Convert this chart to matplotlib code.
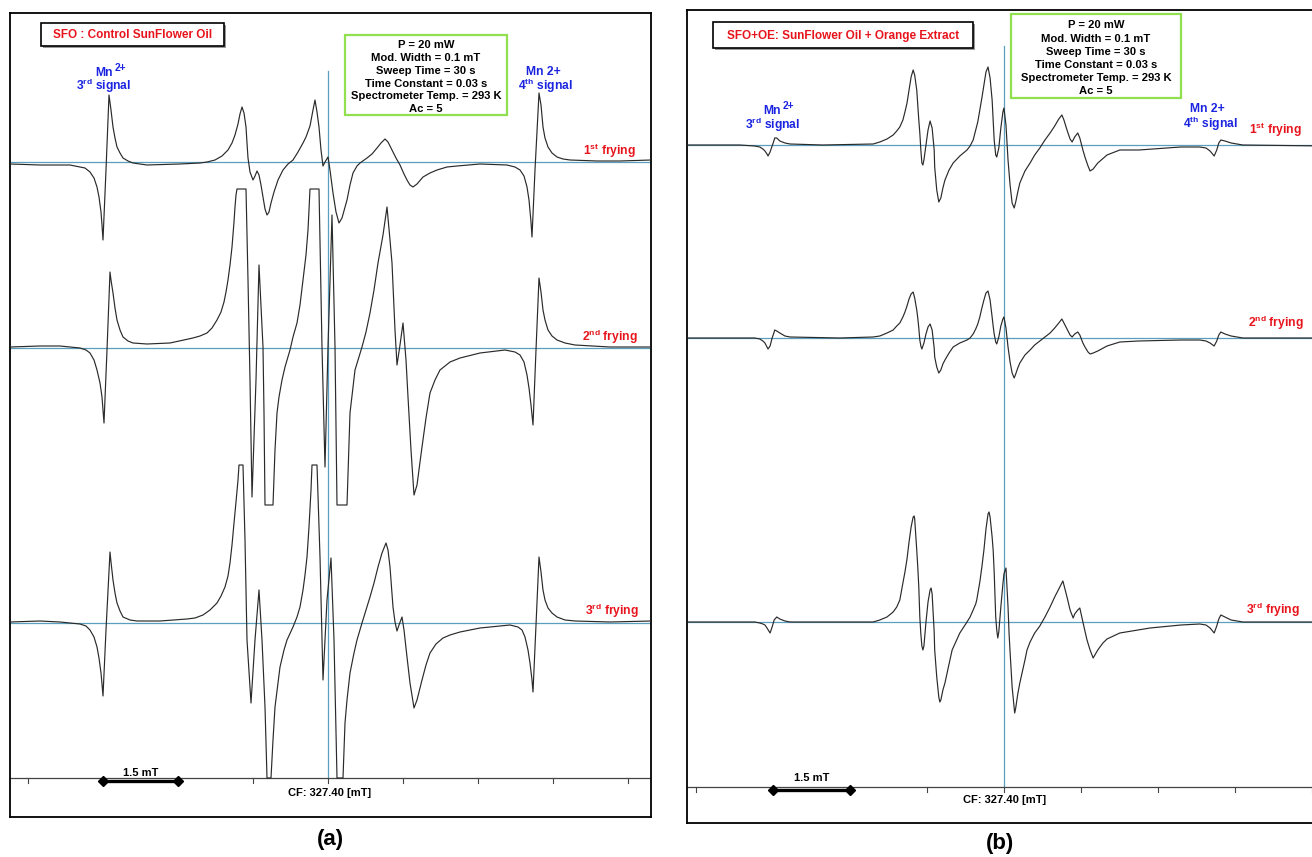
import matplotlib
matplotlib.use("Agg")
import matplotlib.pyplot as plt
from matplotlib.patches import Rectangle
import numpy as np

plt.rcParams['font.family'] = ['Liberation Sans', 'DejaVu Sans']
plt.rcParams['mathtext.fontset'] = 'custom'
plt.rcParams['mathtext.rm'] = 'Liberation Sans:bold'
plt.rcParams['mathtext.it'] = 'Liberation Sans:bold'
plt.rcParams['mathtext.bf'] = 'Liberation Sans:bold'

# ---------------- data ----------------
CF = 327.40          # centre field, mT
TICK_STEP = 1.5      # mT
SCALE_BAR = 1.5      # mT

params_text = ["P = 20 mW", "Mod. Width = 0.1 mT", "Sweep Time = 30 s",
               "Time Constant = 0.03 s", "Spectrometer Temp. = 293 K", "Ac = 5"]
frying_labels = ["1$^{st}$ frying", "2$^{nd}$ frying", "3$^{rd}$ frying"]

# (field mT, intensity a.u.)
# Panel (a): SFO control, 1st / 2nd / 3rd frying
a1 = [(321.04, -2), (321.64, -3), (322.24, -3), (322.44, -5), (322.54, -6), (322.64, -10),
      (322.72, -16), (322.78, -25), (322.82, -35), (322.86, -50), (322.88, -63), (322.90, -78),
      (322.96, -8), (323.02, 67), (323.06, 52), (323.10, 35), (323.14, 24), (323.18, 15),
      (323.24, 9), (323.30, 4), (323.40, 1), (323.50, -1), (323.78, -3), (324.44, -2),
      (324.84, -1), (324.98, 0), (325.14, 2), (325.28, 6), (325.40, 12), (325.48, 19),
      (325.54, 27), (325.60, 38), (325.64, 48), (325.68, 55), (325.72, 49), (325.76, 35),
      (325.78, 19), (325.80, 4), (325.84, -10), (325.90, -18), (325.94, -14), (325.98, -9),
      (326.02, -13), (326.06, -23), (326.10, -35), (326.14, -47), (326.18, -53), (326.22, -50),
      (326.26, -41), (326.32, -30), (326.40, -18), (326.50, -8), (326.60, -2), (326.70, 2),
      (326.80, 10), (326.90, 19), (326.96, 25), (327.04, 36), (327.10, 52), (327.14, 62),
      (327.18, 50), (327.22, 35), (327.26, 12), (327.30, -4), (327.34, 0), (327.40, 5),
      (327.44, -8), (327.50, -31), (327.56, -50), (327.62, -61), (327.68, -56), (327.78, -38),
      (327.84, -23), (327.90, -11), (327.98, -4), (328.04, -1), (328.18, 4), (328.28, 8),
      (328.38, 14), (328.46, 19), (328.54, 23), (328.60, 20), (328.68, 12), (328.76, 4),
      (328.84, -3), (328.92, -12), (328.98, -18), (329.04, -23), (329.10, -25), (329.18, -22),
      (329.30, -15), (329.44, -11), (329.58, -8), (329.78, -5), (329.98, -4), (330.44, -2),
      (330.98, -3), (331.14, -5), (331.24, -8), (331.32, -14), (331.38, -25), (331.42, -38),
      (331.46, -60), (331.48, -75), (331.54, -8), (331.62, 69), (331.66, 57), (331.70, 35),
      (331.74, 24), (331.80, 15), (331.88, 9), (331.98, 5), (332.10, 3), (332.24, 2),
      (332.78, 1), (333.24, 1), (333.86, 2)]

a2 = [(321.04, 1), (321.64, 2), (322.04, 2), (322.44, 0), (322.56, -2), (322.64, -5),
      (322.72, -12), (322.78, -22), (322.84, -35), (322.88, -49), (322.90, -62), (322.92, -75),
      (322.98, -2), (323.04, 76), (323.06, 68), (323.10, 55), (323.14, 40), (323.18, 28),
      (323.24, 18), (323.30, 11), (323.40, 7), (323.50, 5), (323.78, 4), (324.24, 5),
      (324.70, 10), (324.84, 12), (324.98, 15), (325.08, 20), (325.18, 28), (325.26, 36),
      (325.32, 46), (325.36, 56), (325.40, 68), (325.44, 83), (325.48, 101), (325.52, 126),
      (325.54, 141), (325.56, 153), (325.58, 159), (325.76, 159), (325.80, 68), (325.84, -32),
      (325.88, -149), (325.96, -32), (326.02, 83), (326.10, 1), (326.12, -65), (326.14, -157),
      (326.30, -157), (326.34, -102), (326.38, -65), (326.42, -49), (326.48, -32), (326.54, -19),
      (326.64, -2), (326.70, 11), (326.78, 25), (326.84, 43), (326.90, 68), (326.96, 93),
      (327.00, 118), (327.02, 138), (327.04, 159), (327.22, 159), (327.28, 1), (327.34, -119),
      (327.40, 1), (327.48, 133), (327.54, 1), (327.58, -157), (327.78, -157), (327.84, -65),
      (327.94, -22), (328.08, 1), (328.16, 16), (328.24, 35), (328.32, 58), (328.40, 85),
      (328.50, 113), (328.58, 141), (328.64, 108), (328.68, 85), (328.74, 18), (328.78, -17),
      (328.84, 3), (328.90, 25), (328.96, -12), (329.00, -49), (329.06, -102), (329.12, -147),
      (329.18, -137), (329.28, -99), (329.36, -70), (329.44, -45), (329.54, -32), (329.64, -22),
      (329.84, -14), (330.04, -10), (330.44, -5), (330.94, -2), (331.14, -4), (331.24, -7),
      (331.32, -14), (331.38, -27), (331.42, -40), (331.46, -57), (331.50, -77), (331.56, -2),
      (331.62, 70), (331.66, 56), (331.70, 38), (331.74, 28), (331.80, 18), (331.88, 12),
      (331.98, 8), (332.14, 5), (332.34, 3), (333.04, 1), (333.86, 1)]

a3 = [(321.04, 1), (321.64, 2), (322.04, 1), (322.44, -1), (322.56, -3), (322.64, -7),
      (322.72, -14), (322.78, -24), (322.82, -35), (322.86, -50), (322.88, -61), (322.90, -73),
      (322.96, -7), (323.04, 71), (323.06, 61), (323.10, 43), (323.14, 30), (323.18, 20),
      (323.24, 12), (323.30, 6), (323.44, 3), (323.58, 2), (324.04, 2), (324.58, 4),
      (324.74, 5), (324.90, 8), (325.04, 13), (325.18, 20), (325.26, 27), (325.34, 36),
      (325.40, 47), (325.44, 60), (325.48, 78), (325.52, 100), (325.56, 121), (325.60, 143),
      (325.62, 158), (325.70, 158), (325.74, 83), (325.78, -17), (325.86, -80), (325.94, -17),
      (326.02, 33), (326.08, -17), (326.14, -84), (326.18, -155), (326.26, -155), (326.30, -117),
      (326.34, -84), (326.40, -60), (326.44, -44), (326.52, -27), (326.58, -17), (326.70, -4),
      (326.78, 6), (326.84, 16), (326.90, 33), (326.94, 48), (326.98, 66), (327.02, 96),
      (327.06, 133), (327.08, 158), (327.18, 158), (327.24, 66), (327.30, -57), (327.38, 23),
      (327.46, 65), (327.52, -17), (327.58, -155), (327.70, -155), (327.74, -100), (327.78, -77),
      (327.84, -50), (327.92, -30), (327.98, -17), (328.08, 0), (328.16, 13), (328.24, 26),
      (328.32, 40), (328.40, 56), (328.48, 70), (328.56, 80), (328.60, 73), (328.64, 56),
      (328.70, 16), (328.74, 1), (328.78, -8), (328.82, -2), (328.88, 6), (328.92, -7),
      (328.98, -34), (329.04, -60), (329.12, -85), (329.18, -77), (329.28, -57), (329.36, -42),
      (329.44, -30), (329.56, -21), (329.70, -15), (329.84, -12), (330.04, -9), (330.44, -5),
      (331.04, -2), (331.20, -4), (331.28, -7), (331.34, -14), (331.40, -27), (331.44, -40),
      (331.48, -57), (331.50, -69), (331.56, -2), (331.62, 66), (331.66, 51), (331.70, 33),
      (331.74, 23), (331.80, 15), (331.88, 10), (331.98, 6), (332.14, 3), (332.34, 2),
      (333.04, 1), (333.86, 2)]

# Panel (b): SFO + orange extract, 1st / 2nd / 3rd frying
b1 = [(321.22, 0), (322.25, 0), (322.54, -1), (322.64, -2), (322.70, -4), (322.74, -6),
      (322.78, -9), (322.80, -11), (322.84, -7), (322.88, -1), (322.92, 5), (322.93, 7),
      (322.97, 7), (323.03, 4), (323.13, 2), (323.23, 1), (323.87, 0), (324.85, 1),
      (324.98, 3), (325.12, 6), (325.24, 10), (325.31, 14), (325.37, 18), (325.43, 25),
      (325.47, 33), (325.51, 42), (325.55, 55), (325.59, 68), (325.63, 75), (325.66, 70),
      (325.70, 55), (325.72, 40), (325.74, 25), (325.76, 12), (325.78, -5), (325.80, -18),
      (325.82, -20), (325.84, -15), (325.88, 0), (325.92, 15), (325.96, 24), (326.00, 17),
      (326.04, -5), (326.05, -22), (326.09, -45), (326.13, -57), (326.17, -53), (326.21, -43),
      (326.25, -35), (326.33, -25), (326.41, -18), (326.54, -11), (326.68, -5), (326.74, -1),
      (326.80, 5), (326.85, 15), (326.89, 23), (326.93, 35), (326.97, 47), (327.01, 60),
      (327.05, 73), (327.09, 78), (327.13, 67), (327.17, 45), (327.19, 25), (327.21, 5),
      (327.24, -10), (327.26, -12), (327.30, -3), (327.34, 17), (327.38, 33), (327.40, 37),
      (327.44, 20), (327.48, -15), (327.52, -40), (327.56, -58), (327.60, -63), (327.63, -57),
      (327.67, -47), (327.71, -38), (327.81, -26), (327.91, -18), (328.00, -10), (328.10, -3),
      (328.20, 5), (328.30, 12), (328.39, 19), (328.47, 26), (328.53, 30), (328.57, 25),
      (328.63, 15), (328.69, 6), (328.73, 3), (328.78, 8), (328.84, 12), (328.88, 7),
      (328.94, -5), (328.98, -12), (329.04, -21), (329.08, -26), (329.14, -24), (329.23, -18),
      (329.41, -10), (329.66, -5), (330.03, -5), (330.85, -2), (331.22, -2), (331.34, -3),
      (331.42, -6), (331.50, -11), (331.55, -5), (331.59, 2), (331.63, 5), (331.71, 4),
      (331.83, 2), (332.06, 0), (333.70, -1)]

b2 = [(321.22, 0), (322.25, 0), (322.54, 0), (322.64, -1), (322.70, -3), (322.74, -5),
      (322.78, -9), (322.80, -11), (322.84, -8), (322.88, 0), (322.92, 6), (322.93, 8),
      (322.97, 7), (323.03, 5), (323.13, 2), (323.23, 1), (324.20, 0), (324.85, 1),
      (324.98, 2), (325.12, 5), (325.24, 8), (325.31, 12), (325.37, 15), (325.43, 21),
      (325.47, 26), (325.51, 32), (325.55, 39), (325.59, 44), (325.63, 46), (325.66, 40),
      (325.70, 28), (325.72, 20), (325.74, 10), (325.76, -2), (325.78, -8), (325.80, -11),
      (325.84, -5), (325.88, 4), (325.92, 11), (325.96, 14), (326.00, 8), (326.04, -10),
      (326.05, -19), (326.09, -29), (326.13, -35), (326.17, -32), (326.21, -26), (326.25, -22),
      (326.33, -15), (326.41, -9), (326.54, -5), (326.68, -2), (326.74, 0), (326.80, 4),
      (326.85, 9), (326.89, 14), (326.93, 21), (326.97, 30), (327.01, 38), (327.05, 45),
      (327.09, 47), (327.13, 38), (327.17, 21), (327.19, 12), (327.21, 4), (327.24, -4),
      (327.26, -6), (327.30, 1), (327.34, 12), (327.38, 19), (327.40, 21), (327.44, 10),
      (327.48, -9), (327.52, -24), (327.56, -35), (327.60, -40), (327.63, -36), (327.67, -30),
      (327.71, -25), (327.81, -17), (327.91, -12), (328.00, -7), (328.10, -3), (328.20, 1),
      (328.30, 5), (328.39, 10), (328.47, 15), (328.53, 19), (328.57, 15), (328.63, 9),
      (328.69, 3), (328.73, 1), (328.78, 4), (328.84, 6), (328.88, 3), (328.94, -5),
      (328.98, -9), (329.04, -14), (329.08, -16), (329.14, -15), (329.23, -13), (329.41, -8),
      (329.66, -4), (330.03, -3), (330.85, -2), (331.22, -2), (331.34, -3), (331.42, -5),
      (331.50, -8), (331.55, -3), (331.59, 3), (331.63, 6), (331.71, 4), (331.83, 2),
      (332.06, 0), (333.70, 0)]

b3 = [(321.22, 0), (322.25, 0), (322.54, 0), (322.64, -1), (322.70, -2), (322.74, -3),
      (322.78, -6), (322.84, -11), (322.88, -5), (322.92, 2), (322.97, 5), (323.03, 3),
      (323.13, 1), (323.23, 0), (324.85, 0), (324.98, 2), (325.12, 5), (325.24, 10),
      (325.31, 15), (325.37, 22), (325.43, 39), (325.47, 50), (325.51, 63), (325.55, 80),
      (325.59, 95), (325.63, 105), (325.65, 106), (325.66, 103), (325.70, 72), (325.72, 55),
      (325.74, 35), (325.76, 5), (325.78, -12), (325.80, -24), (325.82, -28), (325.84, -24),
      (325.88, 0), (325.92, 20), (325.96, 32), (325.98, 34), (326.00, 28), (326.04, -10),
      (326.05, -28), (326.09, -55), (326.13, -75), (326.15, -80), (326.17, -78), (326.21, -68),
      (326.25, -61), (326.33, -42), (326.39, -28), (326.54, -11), (326.68, 0), (326.74, 5),
      (326.80, 12), (326.85, 18), (326.87, 22), (326.93, 40), (326.97, 55), (327.01, 72),
      (327.05, 93), (327.09, 108), (327.11, 110), (327.13, 105), (327.17, 85), (327.19, 72),
      (327.21, 50), (327.24, 5), (327.26, -8), (327.28, -16), (327.30, -10), (327.34, 15),
      (327.38, 38), (327.40, 48), (327.44, 54), (327.48, 15), (327.50, -11), (327.52, -30),
      (327.56, -65), (327.60, -86), (327.61, -91), (327.63, -86), (327.67, -72), (327.71, -61),
      (327.81, -38), (327.85, -28), (327.91, -20), (328.00, -11), (328.10, -4), (328.20, 5),
      (328.24, 9), (328.30, 15), (328.39, 25), (328.47, 33), (328.55, 41), (328.63, 25),
      (328.69, 12), (328.75, 4), (328.78, 8), (328.84, 12), (328.88, 14), (328.94, 0),
      (329.02, -18), (329.08, -28), (329.14, -36), (329.23, -28), (329.33, -21), (329.41, -17),
      (329.66, -11), (330.25, -6), (330.85, -3), (331.22, -2), (331.34, -3), (331.42, -6),
      (331.50, -11), (331.55, -4), (331.59, 3), (331.63, 7), (331.71, 5), (331.83, 2),
      (332.06, 0), (333.70, 0)]

# ---------------- figure ----------------
W, H = 1312, 857
fig = plt.figure(figsize=(W / 100, H / 100), dpi=100)
fig.patch.set_facecolor('white')

TRACE = '#2a2a2a'
BLUE_LINE = '#5a9fbd'
RED = '#e8141c'
BLUE_TXT = '#1a24e0'
GREEN = '#90e050'


def panel(left, right, top, bottom, xlim, offsets, axis_h, vline_top, bar_start, traces):
    ax = fig.add_axes([left / W, 1 - bottom / H, (right - left) / W, (bottom - top) / H])
    ax.set_xlim(*xlim)
    ax.set_ylim(0, bottom - top)
    ax.set_xticks([])
    ax.set_yticks([])
    for s in ax.spines.values():
        s.set_linewidth(1.3)
        s.set_color('black')
    for off, tr in zip(offsets, traces):
        f, i = np.array(tr).T
        ax.axhline(off, color=BLUE_LINE, lw=0.9, zorder=1)
        ax.plot(f, off + i, color=TRACE, lw=0.85, zorder=3, solid_joinstyle='round')
    ax.plot([CF, CF], [axis_h, vline_top], color=BLUE_LINE, lw=0.9, zorder=2)
    ax.axhline(axis_h, color='#444444', lw=0.9, zorder=2)
    for k in range(-6, 7):
        x = CF + k * TICK_STEP
        if xlim[0] < x < xlim[1]:
            ax.plot([x, x], [axis_h - 5, axis_h], color='#444444', lw=0.8, zorder=2)
    ax.plot([bar_start, bar_start + SCALE_BAR], [axis_h - 3, axis_h - 3], color='black',
            lw=2.4, marker='D', markersize=5, zorder=4, clip_on=False)
    return ax


axA = panel(10, 651, 13, 817, (321.04, 333.86), [655, 469, 194], 39, 746, 322.90,
            [a1, a2, a3])
axB = panel(687, 1327, 10, 823, (321.22, 333.70), [678, 485, 201], 36, 777, 322.90,
            [b1, b2, b3])

# overlay in pixel coordinates for annotations
ov = fig.add_axes([0, 0, 1, 1])
ov.set_xlim(0, W)
ov.set_ylim(H, 0)
ov.axis('off')
ov.patch.set_visible(False)


def titlebox(x0, y0, x1, y1, text):
    ov.add_patch(Rectangle((x0 + 2, y0 + 2), x1 - x0, y1 - y0, fc='#9a9a9a', ec='none', zorder=5))
    ov.add_patch(Rectangle((x0, y0), x1 - x0, y1 - y0, fc='white', ec='black', lw=1.2, zorder=6))
    ov.text((x0 + x1) / 2, (y0 + y1) / 2 + 0.5, text, color=RED, fontsize=8.5, fontweight='bold',
            ha='center', va='center', zorder=7)


def parambox(x0, y0, x1, y1, ys, xc):
    ov.add_patch(Rectangle((x0, y0), x1 - x0, y1 - y0, fc='white', ec=GREEN, lw=1.6, zorder=6))
    for t, y in zip(params_text, ys):
        ov.text(xc, y, t, fontsize=8.1, fontweight='bold', ha='center', va='center', zorder=7)


titlebox(41, 23, 224, 46, "SFO : Control SunFlower Oil")
titlebox(713, 22, 973, 48, "SFO+OE: SunFlower Oil + Orange Extract")
parambox(345, 35, 507, 115, [45, 58, 71, 83.5, 96, 108.5], 426)
parambox(1011, 14, 1181, 98, [25, 38.5, 52, 65, 78, 91], 1096)

blue_kw = dict(color=BLUE_TXT, fontsize=8.7, fontweight='bold', va='center', zorder=7)
sup_kw = dict(color=BLUE_TXT, fontsize=7.4, fontweight='bold', va='center', ha='left', zorder=7)
# Mn2+ labels (base + superscript)
ov.text(95, 73, "Mn", ha='left', **blue_kw)
ov.text(114.5, 68, "2+", **sup_kw)
ov.text(763, 111, "Mn", ha='left', **blue_kw)
ov.text(782.5, 106, "2+", **sup_kw)
ov.text(104, 86, "3$^{rd}$ signal", ha='center', **blue_kw)
ov.text(773, 125, "3$^{rd}$ signal", ha='center', **blue_kw)
ov.text(543, 72, "Mn 2+", ha='center', **blue_kw)
ov.text(545, 86, "4$^{th}$ signal", ha='center', **blue_kw)
ov.text(1207, 109, "Mn 2+", ha='center', **blue_kw)
ov.text(1210, 124, "4$^{th}$ signal", ha='center', **blue_kw)

red_kw = dict(color=RED, fontsize=8.7, fontweight='bold', ha='center', va='center', zorder=7)
for (x, y), t in zip([(610, 151), (610, 337), (612, 611)], frying_labels):
    ov.text(x, y, t, **red_kw)
for (x, y), t in zip([(1276, 130), (1276, 323), (1273, 610)], frying_labels):
    ov.text(x, y, t, **red_kw)

small_kw = dict(color='black', fontsize=8.0, fontweight='bold', ha='center', va='center', zorder=7)
ov.text(141, 773, "1.5 mT", **small_kw)
ov.text(812, 778, "1.5 mT", **small_kw)
ov.text(330, 793, "CF: 327.40 [mT]", **small_kw)
ov.text(1005, 800, "CF: 327.40 [mT]", **small_kw)

ov.text(330, 840, "(a)", fontsize=16, fontweight='bold', ha='center', va='center')
ov.text(1000, 843, "(b)", fontsize=16, fontweight='bold', ha='center', va='center')

fig.savefig("out.png", dpi=100, facecolor='white')
